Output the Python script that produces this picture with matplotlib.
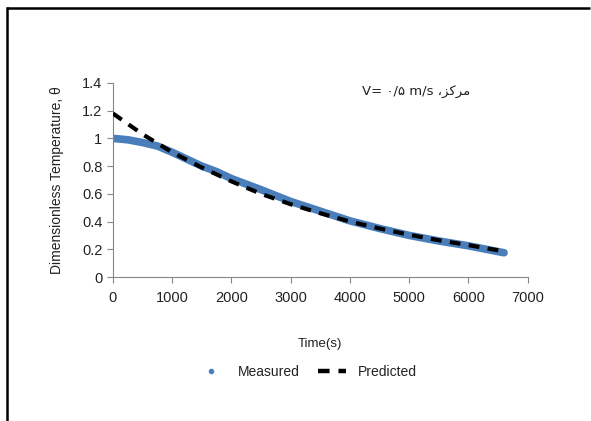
import matplotlib.pyplot as plt
from matplotlib.lines import Line2D

plt.rcParams['font.family'] = ['Liberation Sans', 'DejaVu Sans']

# measured dimensionless temperature
t_meas = [0, 250, 500, 750, 1000, 1250, 1500, 1750, 2000, 2500, 3000,
          3500, 4000, 4500, 5000, 5500, 6000, 6300, 6600]
theta_meas = [1.00, 0.99, 0.97, 0.945, 0.90, 0.85, 0.80, 0.76, 0.71, 0.63, 0.545,
              0.475, 0.405, 0.35, 0.30, 0.26, 0.225, 0.20, 0.175]

# predicted
t_pred = [0, 500, 1000, 1500, 2000, 2500, 3000, 3500, 4000, 4500, 5000,
          5500, 6000, 6600]
theta_pred = [1.18, 1.03, 0.90, 0.79, 0.69, 0.60, 0.525, 0.46, 0.40, 0.35, 0.305,
              0.265, 0.23, 0.185]

blue = '#4A7EBB'
dash = (0, (2.6, 2.0))

fig = plt.figure(figsize=(5.91, 4.21), dpi=100)
ax = fig.add_axes([0.191, 0.342, 0.702, 0.461])

ax.plot(t_meas, theta_meas, color=blue, lw=5.5, solid_capstyle='round', zorder=2)
ax.plot(t_pred, theta_pred, color='black', lw=3, ls=dash, zorder=3)

ax.set_xlim(0, 7000)
ax.set_ylim(0, 1.4)
ax.set_xticks(range(0, 7001, 1000))
ax.set_yticks([0, 0.2, 0.4, 0.6, 0.8, 1, 1.2, 1.4])
ax.set_yticklabels(['0', '0.2', '0.4', '0.6', '0.8', '1', '1.2', '1.4'])

for s in ['top', 'right']:
    ax.spines[s].set_visible(False)
for s in ['left', 'bottom']:
    ax.spines[s].set_color('#868686')
ax.tick_params(colors='#868686', labelcolor='#222222', labelsize=10.5,
               length=4, direction='out')
ax.tick_params(axis='x', pad=6)

ax.set_xlabel('Time(s)', fontsize=9.5, color='#222222', labelpad=24)
ax.set_ylabel('Dimensionless Temperature, \u03b8', fontsize=10, color='#222222',
              labelpad=13)

# V = 0.5 m/s, centre (Persian, presentation forms in visual order)
ax.text(0.6, 0.95, 'V= \u06f0/\u06f5 m/s \u060c\ufeb0\ufb90\ufeae\ufee3',
        transform=ax.transAxes, fontsize=9.5, color='#222222',
        family=['DejaVu Sans'], va='center', ha='left')

handles = [Line2D([], [], color=blue, marker='o', ls='none', markersize=3),
           Line2D([], [], color='black', lw=3.2, ls=dash)]
fig.legend(handles, ['Measured', 'Predicted'], loc='center',
           bbox_to_anchor=(0.52, 0.117), ncol=2, frameon=False,
           fontsize=10, handlelength=2.0, handletextpad=0.9,
           columnspacing=1.3, labelcolor='#222222')

# outer frame: only its left and top edges fall inside the picture
y_top = 1 - 8 / 421
fig.add_artist(Line2D([7 / 591, 7 / 591], [-0.2, y_top],
                      transform=fig.transFigure, color='black', lw=1.8,
                      solid_capstyle='projecting'))
fig.add_artist(Line2D([7 / 591, 0.999], [y_top, y_top],
                      transform=fig.transFigure, color='black', lw=1.8,
                      solid_capstyle='butt'))

fig.savefig('out.png', dpi=100)
